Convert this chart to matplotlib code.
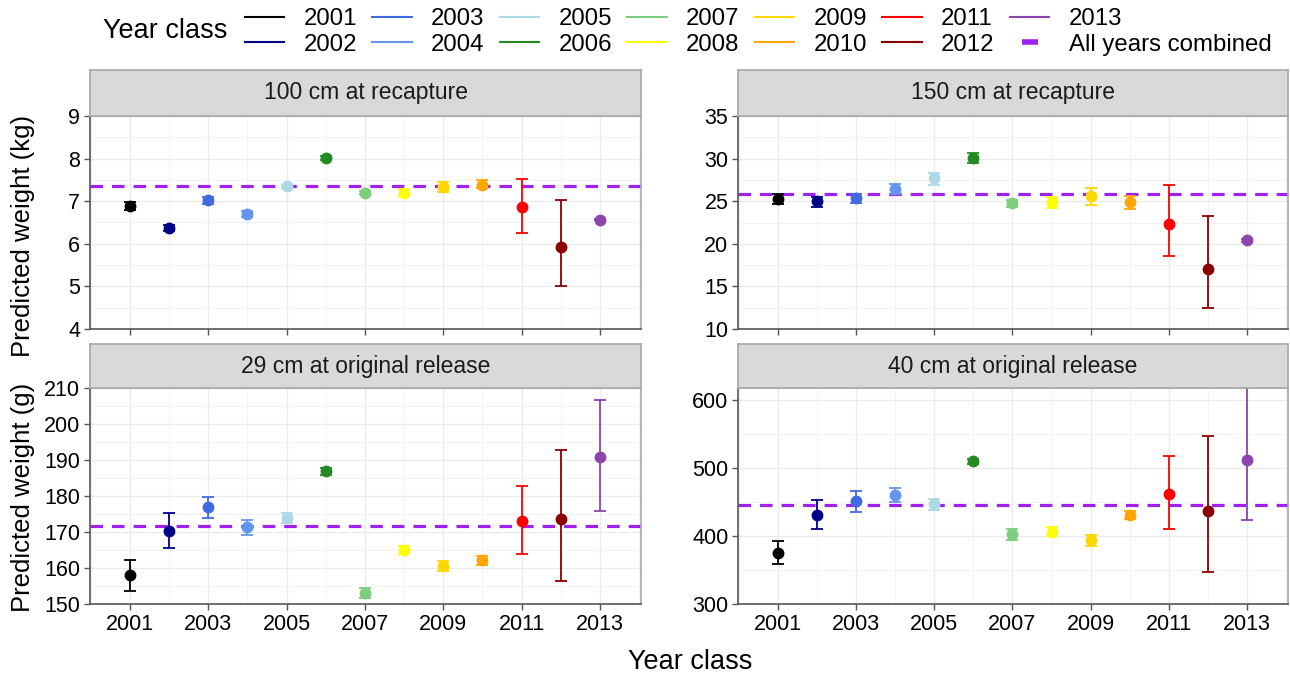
import matplotlib
matplotlib.use("Agg")
import matplotlib.pyplot as plt
from matplotlib.lines import Line2D

plt.rcParams['font.family'] = ['Liberation Sans', 'DejaVu Sans']
plt.rcParams['lines.scale_dashes'] = False

# ---- data ----
years = [2001, 2002, 2003, 2004, 2005, 2006, 2007, 2008, 2009, 2010, 2011, 2012, 2013]
year_colors = ['#000000', '#00008B', '#4169E1', '#6495ED', '#ADD8E6', '#228B22', '#7CCD7C',
               '#FFFF00', '#FFD700', '#FFA500', '#FF0000', '#8B0000', '#8E44AD']
combined_color = '#A020F0'

# 100 cm at recapture (kg)
kg100_est = [6.89, 6.36, 7.02, 6.70, 7.35, 8.02, 7.20, 7.20, 7.33, 7.39, 6.87, 5.93, 6.57]
kg100_lo = [6.80, 6.29, 6.94, 6.62, 7.32, 7.97, 7.16, 7.12, 7.22, 7.30, 6.25, 5.01, 6.55]
kg100_hi = [6.98, 6.43, 7.10, 6.78, 7.38, 8.07, 7.24, 7.28, 7.44, 7.49, 7.53, 7.02, 6.59]
kg100_all = 7.35

# 150 cm at recapture (kg)
kg150_est = [25.29, 24.98, 25.41, 26.38, 27.67, 30.12, 24.74, 24.86, 25.60, 24.90, 22.36, 17.06, 20.41]
kg150_lo = [24.70, 24.31, 24.78, 25.83, 26.93, 29.54, 24.27, 24.16, 24.51, 24.12, 18.54, 12.50, 20.25]
kg150_hi = [25.80, 25.52, 25.87, 26.97, 28.29, 30.63, 25.17, 25.48, 26.50, 25.56, 26.89, 23.22, 20.57]
kg150_all = 25.80

# 29 cm at original release (g)
g29_est = [158.0, 170.3, 176.9, 171.4, 174.0, 186.9, 153.1, 165.0, 160.6, 162.1, 173.1, 173.7, 190.7]
g29_lo = [153.6, 165.5, 173.9, 169.2, 172.4, 185.8, 151.6, 163.8, 159.3, 160.9, 164.0, 156.4, 175.8]
g29_hi = [162.2, 175.3, 179.8, 173.4, 175.2, 187.8, 154.4, 166.2, 161.9, 163.2, 182.7, 192.8, 206.6]
g29_all = 171.7

# 40 cm at original release (g)
g40_est = [375.2, 430.7, 451.5, 460.4, 446.5, 509.9, 402.5, 406.4, 393.6, 431.7, 461.4, 437.6, 512.4]
g40_lo = [358.9, 409.9, 435.6, 450.5, 439.0, 505.9, 394.0, 400.5, 385.6, 425.3, 410.9, 347.0, 423.3]
g40_hi = [392.1, 453.5, 466.3, 470.8, 454.0, 513.9, 410.4, 412.9, 401.0, 437.6, 517.8, 547.0, 625.0]
g40_all = 445.5

panel_titles = ['100 cm at recapture', '150 cm at recapture',
                '29 cm at original release', '40 cm at original release']
x_ticks = [2001, 2003, 2005, 2007, 2009, 2011, 2013]

W, H = 1290, 677
fig = plt.figure(figsize=(W / 100, H / 100), dpi=100)


def fx(px):
    return px / W


def fy(py):
    return 1 - py / H


def make_panel(left, right, top, bottom, strip_top, title, est, lo, hi, combined,
               ylim, yticks, show_xlabels):
    ax = fig.add_axes([fx(left), fy(bottom), fx(right - left), fy(top) - fy(bottom)])
    sx = fig.add_axes([fx(left), fy(top), fx(right - left), fy(strip_top) - fy(top)])
    sx.set_facecolor('#D9D9D9')
    sx.set_xticks([])
    sx.set_yticks([])
    for s in sx.spines.values():
        s.set_color('#A8A8A8')
        s.set_linewidth(1.2)
    sx.text(0.5, 0.5, title, ha='center', va='center', fontsize=16.5, color='#1A1A1A',
            transform=sx.transAxes)

    ax.set_xlim(1999.98, 2014.05)
    ax.set_ylim(*ylim)
    ax.set_xticks(x_ticks)
    ax.set_xticks([y for y in range(2000, 2015, 2)], minor=True)
    ax.set_yticks(yticks)
    step = yticks[1] - yticks[0]
    ax.set_yticks([t + step / 2 for t in yticks[:-1]] +
                  ([yticks[-1] + step / 2] if yticks[-1] + step / 2 < ylim[1] else []),
                  minor=True)
    ax.grid(which='major', color='#EBEBEB', linewidth=1.0, zorder=0)
    ax.grid(which='minor', color='#F3F3F3', linewidth=0.7, zorder=0)
    ax.set_axisbelow(True)
    ax.tick_params(which='major', direction='out', length=4, width=1, color='#555555',
                   labelsize=15.5, labelcolor='black', pad=3)
    ax.tick_params(which='minor', length=0)
    if not show_xlabels:
        ax.tick_params(axis='x', labelbottom=False)
    ax.spines['left'].set_color('#555555')
    ax.spines['bottom'].set_color('#555555')
    ax.spines['top'].set_color('#A8A8A8')
    ax.spines['right'].set_color('#A8A8A8')
    for s in ax.spines.values():
        s.set_linewidth(1.2)

    ax.axhline(combined, color=combined_color, linewidth=2.3, dashes=(9, 6.5), zorder=2)
    for yr, e, l, h, c in zip(years, est, lo, hi, year_colors):
        ax.errorbar([yr], [e], yerr=[[e - l], [h - e]], fmt='o', color=c, ecolor=c,
                    markersize=7.5, elinewidth=1.3, capsize=4.6, capthick=1.3, zorder=3)
    return ax


L0, L1 = 90, 641
R0, R1 = 738, 1288
make_panel(L0, L1, 116, 329, 70, panel_titles[0], kg100_est, kg100_lo, kg100_hi, kg100_all,
           (4, 9), [4, 5, 6, 7, 8, 9], False)
make_panel(R0, R1, 116, 329, 70, panel_titles[1], kg150_est, kg150_lo, kg150_hi, kg150_all,
           (10, 35), [10, 15, 20, 25, 30, 35], False)
make_panel(L0, L1, 388, 604, 344, panel_titles[2], g29_est, g29_lo, g29_hi, g29_all,
           (150, 210), [150, 160, 170, 180, 190, 200, 210], True)
make_panel(R0, R1, 388, 604, 344, panel_titles[3], g40_est, g40_lo, g40_hi, g40_all,
           (300, 618), [300, 400, 500, 600], True)

# axis titles
fig.text(fx(23), fy(236), 'Predicted weight (kg)', rotation=90, ha='center', va='center',
         fontsize=18.5)
fig.text(fx(23), fy(497), 'Predicted weight (g)', rotation=90, ha='center', va='center',
         fontsize=18.5)
fig.text(fx(690), fy(662), 'Year class', ha='center', va='center', fontsize=19.5)

# legend
handles = [Line2D([], [], color=c, linewidth=1.5) for c in year_colors]
labels = [str(y) for y in years]
handles.append(Line2D([], [], linestyle='none', marker='_', markersize=12,
                      markeredgewidth=4, color=combined_color))
labels.append('All years combined')
fig.text(fx(103), fy(31), 'Year class', ha='left', va='center', fontsize=19.5)
fig.legend(handles, labels, ncol=7, loc='center left', bbox_to_anchor=(fx(228), fy(32)),
           frameon=False, fontsize=17.3, handlelength=1.65, handletextpad=0.8,
           columnspacing=0.63, labelspacing=0.14, borderpad=0.2)

fig.savefig('out.png', dpi=100)
